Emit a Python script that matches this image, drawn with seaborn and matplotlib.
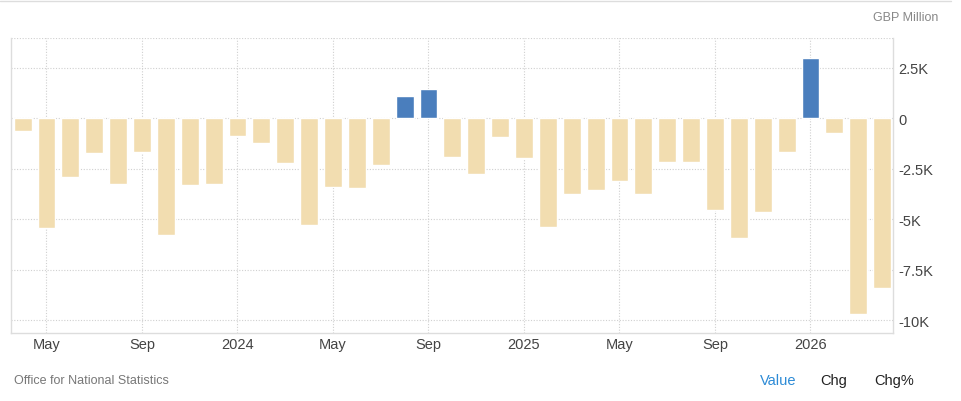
import matplotlib
matplotlib.use("Agg")
import matplotlib.pyplot as plt
import seaborn as sns
import pandas as pd
import numpy as np
from matplotlib.lines import Line2D

months = ["Apr 2023", "May 2023", "Jun 2023", "Jul 2023", "Aug 2023", "Sep 2023", "Oct 2023",
          "Nov 2023", "Dec 2023", "Jan 2024", "Feb 2024", "Mar 2024", "Apr 2024", "May 2024",
          "Jun 2024", "Jul 2024", "Aug 2024", "Sep 2024", "Oct 2024", "Nov 2024", "Dec 2024",
          "Jan 2025", "Feb 2025", "Mar 2025", "Apr 2025", "May 2025", "Jun 2025", "Jul 2025",
          "Aug 2025", "Sep 2025", "Oct 2025", "Nov 2025", "Dec 2025", "Jan 2026", "Feb 2026",
          "Mar 2026", "Apr 2026"]
values = [-610, -5450, -2920, -1730, -3270, -1650, -5770, -3320, -3240, -860, -1240, -2200,
          -5300, -3390, -3440, -2300, 1100, 1450, -1900, -2740, -940, -1950, -5370, -3730,
          -3540, -3090, -3730, -2150, -2150, -4530, -5920, -4630, -1650, 2990, -710, -9680,
          -8430]
tick_months = ["May 2023", "Sep 2023", "Jan 2024", "May 2024", "Sep 2024", "Jan 2025",
               "May 2025", "Sep 2025", "Jan 2026"]
tick_labels = ["May", "Sep", "2024", "May", "Sep", "2025", "May", "Sep", "2026"]
y_ticks = [2500, 0, -2500, -5000, -7500, -10000]
y_labels = ["2.5K", "0", "-2.5K", "-5K", "-7.5K", "-10K"]

df = pd.DataFrame({"month": months, "value": values})
df["sign"] = np.where(df["value"] >= 0, "pos", "neg")

sns.set_style("white")
plt.rcParams["font.family"] = ["Liberation Sans", "DejaVu Sans"]

fig = plt.figure(figsize=(9.61, 4.02), dpi=100)
ax = fig.add_axes([0.0111, 0.169, 0.918, 0.734])

sns.barplot(data=df, x="month", y="value", hue="sign", order=months,
            palette={"pos": "#4A7EBD", "neg": "#F2DDB0"}, dodge=False,
            width=0.75, legend=False, ax=ax, saturation=1)

ax.set_xlim(-0.5, 36.45)
ax.set_ylim(-10640, 3980)
ax.set_xlabel("")
ax.set_ylabel("")

tick_pos = [months.index(m) for m in tick_months]
ax.set_xticks(tick_pos)
ax.set_xticklabels(tick_labels, fontsize=10.5, color="#444444")
ax.set_yticks(y_ticks)
ax.set_yticklabels(y_labels, fontsize=10.5, color="#444444")
ax.yaxis.tick_right()
ax.tick_params(axis="both", length=0, pad=3)
ax.tick_params(axis="y", pad=4)

for yv in y_ticks + [3980]:
    ax.axhline(yv, color="#d0d0d0", lw=0.8, ls=(0, (1, 1.5)), zorder=0)
for xv in tick_pos:
    ax.axvline(xv, color="#d0d0d0", lw=0.8, ls=(0, (1, 1.5)), zorder=0)

for side in ["left", "bottom", "right"]:
    ax.spines[side].set_color("#dddddd")
    ax.spines[side].set_linewidth(1)
ax.spines["top"].set_visible(False)

fig.add_artist(Line2D([0, 0.99], [0.995, 0.995], color="#dddddd", lw=1,
                      transform=fig.transFigure))

fig.text(0.976, 0.955, "GBP Million", ha="right", va="center", fontsize=9, color="#888888")
fig.text(0.0146, 0.052, "Office for National Statistics", ha="left", va="center",
         fontsize=9, color="#777777")
fig.text(0.810, 0.052, "Value", ha="center", va="center", fontsize=10.5, color="#2D8BD6")
fig.text(0.868, 0.052, "Chg", ha="center", va="center", fontsize=10.5, color="#222222")
fig.text(0.930, 0.052, "Chg%", ha="center", va="center", fontsize=10.5, color="#222222")

fig.savefig("out.png", dpi=100, facecolor="white")
